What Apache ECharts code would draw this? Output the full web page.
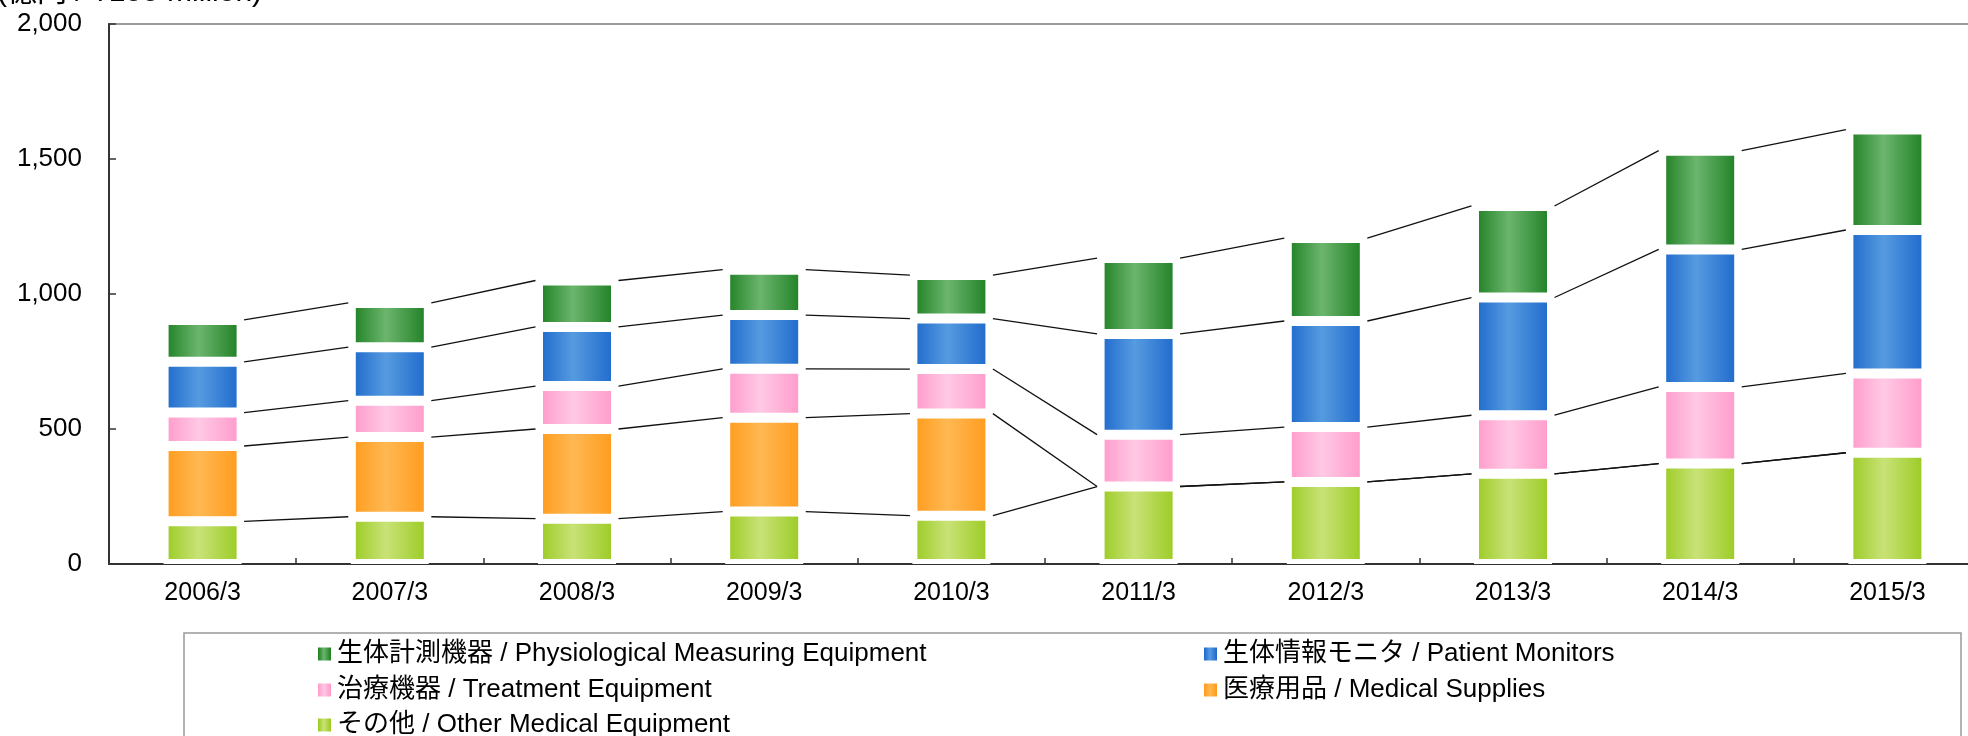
<!DOCTYPE html>
<html>
<head>
<meta charset="utf-8">
<script src="https://cdn.jsdelivr.net/npm/echarts@6/dist/echarts.min.js"></script>
<style>
html, body { margin: 0; padding: 0; background: #fff; }
#chart { width: 1968px; height: 736px; }
</style>
</head>
<body>
<div id="chart"></div>
<script>
// 年度 (fiscal year end)
var categories = ['2006/3', '2007/3', '2008/3', '2009/3', '2010/3', '2011/3', '2012/3', '2013/3', '2014/3', '2015/3'];

// segment values, 億円, bottom to top
var otherEquip      = [158, 175, 168, 194, 179, 287, 304, 334, 372, 412];
var medicalSupplies = [279, 295, 332, 348, 378,   0,   0,   0,   0,   0];
var treatmentEquip  = [124, 135, 159, 181, 165, 192, 203, 217, 284, 294];
var patientMonitors = [188, 198, 219, 199, 187, 373, 393, 436, 509, 531];
var physioMeasuring = [155, 164, 172, 168, 161, 281, 307, 339, 366, 372];

var yTicks = [0, 500, 1000, 1500, 2000];

var seriesNames = [
	'その他 / Other Medical Equipment',
	'医療用品 / Medical Supplies',
	'治療機器 / Treatment Equipment',
	'生体情報モニタ / Patient Monitors',
	'生体計測機器 / Physiological Measuring Equipment'
];

var BAR_W = 78;
var latinFont = '"Liberation Sans", "Noto Sans CJK JP", sans-serif';

function grad(dark, light){
	return new echarts.graphic.LinearGradient(0, 0, 1, 0, [
		{offset: 0, color: dark},
		{offset: 0.45, color: light},
		{offset: 1, color: dark}
	]);
}

var colors = [
	grad('#98ca1e', '#c9e277'),
	grad('#ff9a1a', '#ffb852'),
	grad('#ff98ca', '#ffc9e4'),
	grad('#1c67cb', '#569be0'),
	grad('#1b7e20', '#6cb56e')
];

var stacks = [otherEquip, medicalSupplies, treatmentEquip, patientMonitors, physioMeasuring];

// cumulative tops for the connector lines
var cumulative = [];
var running = categories.map(function(){ return 0; });
stacks.forEach(function(arr){
	running = running.map(function(v, i){ return v + arr[i]; });
	cumulative.push(running.slice());
});

var connectorData = [];
cumulative.forEach(function(level){
	for(var i = 0; i < categories.length - 1; i++){
		connectorData.push([i, level[i], level[i + 1]]);
	}
});

var series = stacks.map(function(arr, k){
	return {
		name: seriesNames[k],
		type: 'bar',
		stack: 'total',
		barWidth: BAR_W,
		data: arr,
		itemStyle: {
			color: colors[k],
			borderColor: '#fff',
			borderWidth: 5
		},
		emphasis: { disabled: true }
	};
});

series.push({
	type: 'custom',
	silent: true,
	data: connectorData,
	encode: { x: 0, y: 1 },
	renderItem: function(params, api){
		var i = api.value(0);
		var a = api.coord([i, api.value(1)]);
		var b = api.coord([i + 1, api.value(2)]);
		var half = BAR_W / 2 + 2.5;
		return {
			type: 'line',
			shape: { x1: a[0] + half, y1: a[1], x2: b[0] - half, y2: b[1] },
			style: { stroke: '#111', lineWidth: 1.3 }
		};
	},
	z: 3
});

// one legend per cell: [series index, left, top]
var legendCells = [
	[4, 318, 641],
	[2, 318, 677],
	[0, 318, 712],
	[3, 1204, 641],
	[1, 1204, 677]
];

var legends = legendCells.map(function(c){
	return {
		left: c[1],
		top: c[2],
		padding: 0,
		itemWidth: 13,
		itemHeight: 13,
		icon: 'rect',
		itemStyle: { borderWidth: 0 },
		selectedMode: false,
		data: [seriesNames[c[0]]],
		textStyle: { fontSize: 26, lineHeight: 26, color: '#000', fontFamily: latinFont, padding: [0, 0, 0, 1] }
	};
});

var chart = echarts.init(document.getElementById('chart'));
chart.setOption({
	animation: false,
	backgroundColor: '#fff',
	grid: {
		left: 109,
		top: 24,
		width: 1872,
		height: 540,
		outerBoundsMode: 'none',
		containLabel: false,
		show: true,
		borderColor: '#9a9a9a',
		borderWidth: 2,
		backgroundColor: 'transparent'
	},
	xAxis: {
		type: 'category',
		data: categories,
		axisLine: { lineStyle: { color: '#333', width: 2 } },
		axisTick: { show: true, inside: true, length: 6, lineStyle: { color: '#333', width: 1.5 } },
		axisLabel: { color: '#000', fontSize: 25, margin: 17, fontFamily: '"Liberation Sans Narrow", "Liberation Sans", sans-serif' },
		splitLine: { show: false }
	},
	yAxis: {
		type: 'value',
		min: yTicks[0],
		max: yTicks[yTicks.length - 1],
		interval: 500,
		axisLine: { show: true, lineStyle: { color: '#333', width: 2 } },
		axisTick: { show: true, inside: true, length: 7, lineStyle: { color: '#333', width: 1.5 } },
		axisLabel: {
			color: '#000',
			fontSize: 26,
			margin: 27,
			fontFamily: latinFont,
			formatter: function(v){ return v.toLocaleString('en-US'); }
		},
		splitLine: { show: false }
	},
	legend: legends,
	graphic: [
		{
			type: 'text',
			left: -3,
			top: -22,
			style: { text: '(億円 / ¥100 million)', fontSize: 30, fontFamily: latinFont, fill: '#000' }
		},
		{
			type: 'rect',
			shape: { x: 184, y: 633, width: 1777, height: 200 },
			style: { fill: 'none', stroke: '#999', lineWidth: 1.5 },
			z: -1
		}
	],
	series: series
});
</script>
</body>
</html>
